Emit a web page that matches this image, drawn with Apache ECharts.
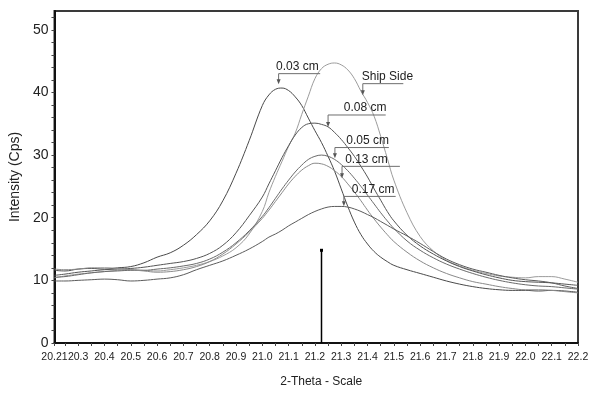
<!DOCTYPE html>
<html>
<head>
<meta charset="utf-8">
<script src="https://cdn.jsdelivr.net/npm/echarts@6/dist/echarts.min.js"></script>
<style>html,body{margin:0;padding:0;background:#fff;}#c{width:600px;height:395px;}</style>
</head>
<body>
<div id="c"></div>
<script>
// ---- data ----
const xs = [20.21, 20.25, 20.3, 20.35, 20.4, 20.45, 20.5, 20.55, 20.6, 20.65, 20.7, 20.75, 20.8, 20.85, 20.9, 20.95,
  21.0, 21.025, 21.05, 21.075, 21.1, 21.125, 21.15, 21.175, 21.2, 21.225, 21.25, 21.275, 21.3, 21.325, 21.35, 21.375,
  21.4, 21.425, 21.45, 21.475, 21.5, 21.55, 21.6, 21.65, 21.7, 21.75, 21.8, 21.85, 21.9, 21.95, 22.0, 22.05, 22.1, 22.15, 22.2];

const s003 = [11.6, 11.5, 11.8, 11.9, 11.8, 12.0, 12.2, 12.8, 13.7, 14.4, 15.6, 17.3, 19.5, 22.7, 27.1, 32.3,
  37.9, 39.6, 40.5, 40.7, 40.3, 39.3, 37.9, 35.9, 33.9, 32.0, 29.8, 27.4, 24.6, 21.8, 19.3, 17.3,
  15.8, 14.6, 13.7, 13.0, 12.4, 11.7, 11.1, 10.5, 9.9, 9.4, 9.0, 8.7, 8.5, 8.4, 8.4, 8.3, 8.4, 8.3, 8.1];

const sShip = [10.4, 10.7, 11.0, 11.2, 11.4, 11.6, 11.7, 11.6, 11.5, 11.7, 12.0, 12.4, 13.0, 13.9, 15.2, 17.4,
  21.0, 24.0, 26.6, 29.0, 31.4, 33.5, 36.5, 39.4, 42.2, 43.8, 44.5, 44.7, 44.4, 43.6, 42.2, 40.2,
  38.4, 36.2, 33.0, 29.5, 26.0, 20.8, 17.0, 14.7, 13.2, 12.3, 11.6, 11.1, 10.7, 10.5, 10.4, 10.6, 10.6, 10.2, 9.7];

const s008 = [10.8, 11.0, 11.3, 11.5, 11.7, 11.8, 11.9, 12.1, 12.4, 12.7, 13.0, 13.5, 14.3, 15.6, 17.6, 20.3,
  23.3, 25.4, 27.5, 29.6, 31.5, 33.2, 34.4, 35.0, 35.1, 34.9, 34.5, 33.6, 32.5, 31.2, 29.8, 28.2,
  26.5, 24.6, 22.8, 21.0, 19.5, 17.2, 15.5, 14.2, 13.1, 12.2, 11.5, 10.9, 10.4, 10.0, 9.8, 9.7, 9.6, 9.4, 9.2];

const s005 = [10.5, 10.6, 10.9, 11.2, 11.4, 11.5, 11.6, 11.6, 11.8, 12.0, 12.3, 12.7, 13.4, 14.5, 16.0, 17.9,
  20.2, 21.6, 23.1, 24.6, 26.0, 27.3, 28.4, 29.3, 29.8, 30.0, 29.8, 29.3, 28.5, 27.5, 26.3, 25.0,
  23.6, 22.2, 20.8, 19.5, 18.3, 16.3, 14.8, 13.6, 12.6, 11.8, 11.1, 10.5, 10.0, 9.6, 9.3, 9.1, 9.0, 8.8, 8.6];

const s013 = [11.8, 11.7, 11.8, 12.0, 12.0, 11.9, 11.7, 11.5, 11.3, 11.4, 11.7, 12.2, 13.0, 14.2, 15.8, 17.7,
  19.9, 21.2, 22.6, 24.0, 25.4, 26.6, 27.6, 28.3, 28.7, 28.6, 28.2, 27.5, 26.6, 25.4, 24.1, 22.7,
  21.2, 19.8, 18.5, 17.3, 16.2, 14.5, 13.1, 12.0, 11.1, 10.4, 9.8, 9.4, 9.0, 8.7, 8.5, 8.5, 8.4, 8.2, 8.0];

const s017 = [9.9, 9.9, 10.0, 10.1, 10.2, 10.1, 9.9, 10.0, 10.2, 10.4, 10.9, 11.7, 12.4, 13.1, 14.0, 15.0,
  16.2, 16.9, 17.4, 18.0, 18.7, 19.3, 19.9, 20.5, 21.0, 21.4, 21.7, 21.8, 21.8, 21.7, 21.4, 21.0,
  20.5, 20.0, 19.4, 18.8, 18.2, 17.1, 15.9, 14.6, 13.4, 12.5, 11.8, 11.3, 10.8, 10.4, 10.1, 9.9, 9.6, 9.1, 8.7];

const seriesNames = ['0.03 cm', 'Ship Side', '0.08 cm', '0.05 cm', '0.13 cm', '0.17 cm'];
const seriesValues = [s003, sShip, s008, s005, s013, s017];
const seriesColors = ['#4a4a4a', '#9c9c9c', '#555555', '#6a6a6a', '#8a8a8a', '#5c5c5c'];

// reference marker (stick)
const markerX = 21.225;
const markerY = 14.8;

// annotations
const annLabels = ['0.03 cm', 'Ship Side', '0.08 cm', '0.05 cm', '0.13 cm', '0.17 cm'];
const annTextX = [21.052, 21.378, 21.31, 21.319, 21.315, 21.34];
const annLineY = [43.0, 41.4, 36.4, 31.2, 28.2, 23.4];
const annArrowX = [21.062, 21.382, 21.250, 21.276, 21.303, 21.31];
const annTipY = [41.3, 39.55, 34.5, 29.5, 26.3, 21.85];
const annLineEndX = [21.22, 21.536, 21.469, 21.481, 21.523, 21.507];

// axis tick labels
const xTickLabels = [20.21, 20.3, 20.4, 20.5, 20.6, 20.7, 20.8, 20.9, 21.0, 21.1, 21.2, 21.3, 21.4, 21.5, 21.6, 21.7, 21.8, 21.9, 22.0, 22.1, 22.2];
const yTickLabels = [0, 10, 20, 30, 40, 50];

// ---- chart ----
const regular = '"Liberation Sans", Arial, sans-serif';

const xTicks = [];
for (let i = 0; i < xTickLabels.length; i++) {
  xTicks.push(xTickLabels[i]);
  if (i > 0) xTicks.push(+((xTickLabels[i] - 0.05).toFixed(2)));
}
const yTicks = [];
for (let i = 0; i < yTickLabels.length; i++) {
  for (let k = 0; k < 5; k++) {
    const v = yTickLabels[i] + k * 2;
    if (v <= 53) yTicks.push(v);
  }
}

const lineSeries = seriesNames.map((n, i) => ({
  name: n,
  type: 'line',
  smooth: 0.4,
  symbol: 'none',
  lineStyle: { color: seriesColors[i], width: 1 },
  data: xs.map((x, j) => [x, seriesValues[i][j]]),
  z: 2
}));

const chart = echarts.init(document.getElementById('c'), null, { renderer: 'canvas' });
chart.setOption({
  animation: false,
  backgroundColor: '#fff',
  grid: { left: 50, right: 22, top: 11, bottom: 52, show: true, borderColor: '#3a3a3a', borderWidth: 2 },
  xAxis: {
    type: 'value', min: 20.21, max: 22.2,
    name: '2-Theta - Scale', nameLocation: 'middle', nameGap: 33,
    nameTextStyle: { fontFamily: regular, fontSize: 12, color: '#222', padding: [0, 0, 0, 10] },
    axisLine: { show: true, onZero: false, lineStyle: { color: '#111', width: 2 } },
    axisTick: { show: true, length: 3, customValues: xTicks, lineStyle: { color: '#444' } },
    axisLabel: {
      customValues: xTickLabels, margin: 9, fontFamily: regular, fontSize: 10.5, color: '#222',
      hideOverlap: false, showMinLabel: true, showMaxLabel: true,
      formatter: v => (Math.abs(v - 20.21) < 1e-6 ? '20.21' : Number(v).toFixed(1))
    },
    splitLine: { show: false }
  },
  yAxis: {
    type: 'value', min: 0, max: 53,
    name: 'Intensity (Cps)', nameLocation: 'middle', nameGap: 27,
    nameTextStyle: { fontFamily: regular, fontSize: 14, color: '#222' },
    axisLine: { show: true, onZero: false, lineStyle: { color: '#111', width: 2 } },
    axisTick: { show: true, length: 3, customValues: yTicks, lineStyle: { color: '#444' } },
    axisLabel: { customValues: yTickLabels, margin: 6, fontFamily: regular, fontSize: 14, color: '#222' },
    splitLine: { show: false }
  },
  series: lineSeries.concat([
    {
      name: 'marker', type: 'line', symbol: 'none',
      lineStyle: { color: '#000', width: 1.5 }, itemStyle: { color: '#000' },
      data: [
        { value: [markerX, 0], symbol: 'none' },
        { value: [markerX, markerY], symbol: 'rect', symbolSize: 3 }
      ],
      showSymbol: true, z: 3
    },
    {
      name: 'annotations', type: 'custom', z: 4,
      data: annLabels.map((l, i) => [annArrowX[i], annLineY[i], i]),
      encode: { x: 0, y: 1 },
      renderItem: function (params, api) {
        const i = api.value(2);
        const a = api.coord([annArrowX[i], annLineY[i]]);
        const e = api.coord([annLineEndX[i], annLineY[i]]);
        const t = api.coord([annArrowX[i], annTipY[i]]);
        const tx = api.coord([annTextX[i], annLineY[i]]);
        const c = '#6e6e6e';
        return {
          type: 'group',
          children: [
            { type: 'polyline', shape: { points: [[e[0], a[1]], [a[0], a[1]], [a[0], t[1] - 4]] },
              style: { stroke: c, lineWidth: 1, fill: null } },
            { type: 'polygon', shape: { points: [[a[0], t[1]], [a[0] - 2, t[1] - 5], [a[0] + 2, t[1] - 5]] },
              style: { fill: '#555', stroke: null } },
            { type: 'text', x: tx[0], y: a[1] - 1,
              style: { text: annLabels[i], fill: '#222', font: '12px ' + regular, textAlign: 'left', textVerticalAlign: 'bottom' } }
          ]
        };
      }
    }
  ])
});
</script>
</body>
</html>
